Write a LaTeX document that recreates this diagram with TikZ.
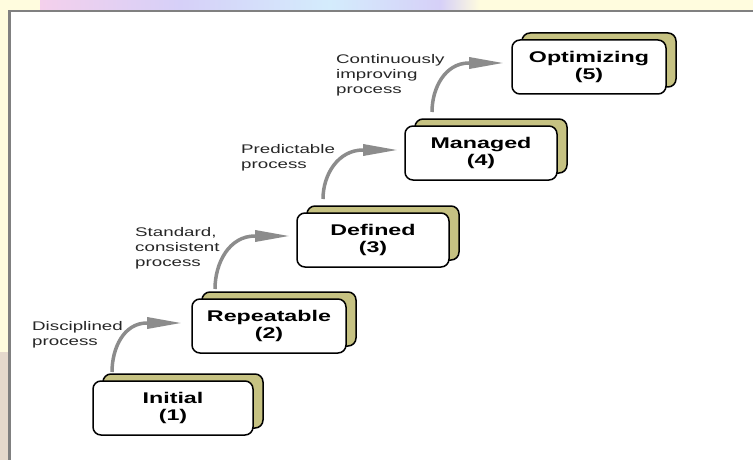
\documentclass[tikz,border=0pt]{standalone}
\usepackage{graphicx}
\usepackage{fontspec}
\setmainfont{Liberation Sans}
\usetikzlibrary{arrows.meta,calc}
\pgfdeclarelayer{back}
\pgfdeclarelayer{slabs}
\pgfsetlayers{back,slabs,main}
\definecolor{slabcol}{RGB}{198,194,130}
\definecolor{flowcol}{RGB}{140,140,140}
\definecolor{paleyel}{RGB}{255,252,222}
\definecolor{framegray}{RGB}{128,128,128}
\definecolor{lav}{RGB}{214,208,248}
\definecolor{pinkl}{RGB}{244,208,236}
\definecolor{bluel}{RGB}{212,236,252}
\newcommand\wide[1]{\scalebox{1.5}[1]{#1}}
\tikzset{
  levelbox/.style={draw=black, line width=1.5pt, rounded corners=8pt, fill=white,
    minimum height=54pt, outer sep=0pt, inner sep=0pt, align=center,
    font=\fontsize{15.5}{17}\selectfont\bfseries},
  slab/.style={draw=black, line width=1.5pt, rounded corners=8pt, fill=slabcol},
  note/.style={anchor=north west, inner sep=0pt, align=left, text=black!85,
    font=\fontsize{12.5}{15}\selectfont},
  flow/.style={draw=flowcol, line width=3.5pt, -{Triangle[length=35pt,width=11pt]}}
}
\begin{document}
\begin{tikzpicture}[x=1pt,y=-1pt]
\useasboundingbox (0,0) rectangle (753,460);
% slide background
\begin{pgfonlayer}{back}
\fill[paleyel] (0,0) rectangle (753,460);
\shade[left color=pinkl, right color=lav] (40,0) rectangle (180,10);
\shade[left color=lav, right color=bluel] (180,0) rectangle (330,10);
\shade[left color=bluel, right color=lav] (330,0) rectangle (440,10);
\shade[left color=lav, right color=paleyel] (440,0) rectangle (480,10);
\fill[black!20!brown!25] (0,352) rectangle (8,460);
\fill[framegray] (8,10) rectangle (753,12.5);
\fill[framegray] (8,10) rectangle (10.5,460);
\fill[white] (10.5,12.5) rectangle (753,460);
\end{pgfonlayer}

% level boxes
\node[levelbox, minimum width=160pt] (b1) at (173,408) {\wide{Initial}\\\wide{(1)}};
\node[levelbox, minimum width=154pt] (b2) at (269,326) {\wide{Repeatable}\\\wide{(2)}};
\node[levelbox, minimum width=152pt] (b3) at (373,240) {\wide{Defined}\\\wide{(3)}};
\node[levelbox, minimum width=152pt] (b4) at (481,153) {\wide{Managed}\\\wide{(4)}};
\node[levelbox, minimum width=154pt] (b5) at (589,67) {\wide{Optimizing}\\\wide{(5)}};

% slabs behind the boxes
\begin{pgfonlayer}{slabs}
\foreach \b in {b1,b2,b3,b4,b5}{
  \draw[slab] ($(\b.south west)+(10,-7)$) rectangle ($(\b.north east)+(10,-7)$);
}
\end{pgfonlayer}

% arrow endpoints
\coordinate (s1) at (112,372);
\coordinate (s2) at (215,289);
\coordinate (s3) at (323,199);
\coordinate (s4) at (432,112);
\coordinate (t1) at ($(b2.west)+(-10,-3)$);
\coordinate (t2) at ($(b3.west)+(-7,-4)$);
\coordinate (t3) at ($(b4.west)+(-7,-3)$);
\coordinate (t4) at ($(b5.west)+(-8,-4)$);
\foreach \i in {1,2,3,4}{
  \draw[flow] (s\i) to[out=90,in=180] ($(t\i)+(-35,0)$) -- (t\i);
}

% labels
\node[note] (l1) at (32,321) {\wide{Disciplined}\\\wide{process}};
\node[note] (l2) at (135,227) {\wide{Standard,}\\\wide{consistent}\\\wide{process}};
\node[note] (l3) at (241,144) {\wide{Predictable}\\\wide{process}};
\node[note] (l4) at (336,54) {\wide{Continuously}\\\wide{improving}\\\wide{process}};
\end{tikzpicture}
\end{document}
